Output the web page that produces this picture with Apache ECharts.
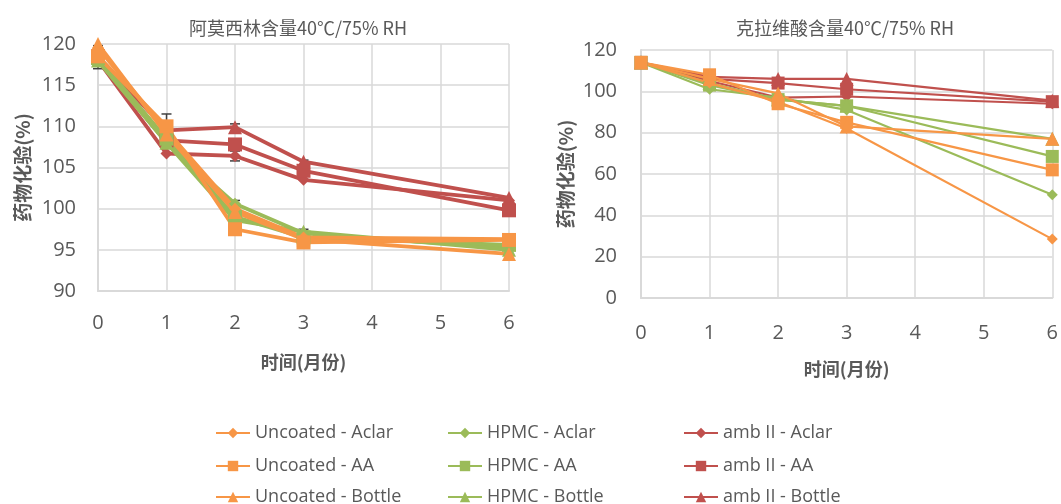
<!DOCTYPE html>
<html><head><meta charset="utf-8">
<script src="https://cdn.jsdelivr.net/npm/echarts@6/dist/echarts.min.js"></script>
<style>html,body{margin:0;padding:0;background:#fff}#c{width:1061px;height:504px}</style>
</head><body><div id="c"></div>
<script>
const months = [0, 1, 2, 3, 6];
const xTicks = [0, 1, 2, 3, 4, 5, 6];
const titleLeft = '阿莫西林含量40℃/75% RH';
const titleRight = '克拉维酸含量40℃/75% RH';
const yName = '药物化验(%)';
const xName = '时间(月份)';
const seriesNames = ['Uncoated - Aclar','Uncoated - AA','Uncoated - Bottle','HPMC - Aclar','HPMC - AA','HPMC - Bottle','amb II - Aclar','amb II - AA','amb II - Bottle'];

// Amoxicillin (left)
const amoxUncoatedAclar = [119.5, 109.5, 100.0, 96.5, 96.3];
const amoxUncoatedAA    = [118.5, 110.0, 97.5, 95.9, 96.2];
const amoxUncoatedBottle= [120.0, 109.0, 99.6, 96.3, 94.5];
const amoxHpmcAclar     = [118.0, 108.0, 100.6, 97.0, 95.2];
const amoxHpmcAA        = [118.3, 108.5, 99.0, 96.5, 95.6];
const amoxHpmcBottle    = [118.0, 108.0, 98.6, 97.2, 95.0];
const amoxAmbAclar      = [118.0, 106.7, 106.4, 103.5, 101.0];
const amoxAmbAA         = [118.5, 108.3, 107.8, 104.6, 99.8];
const amoxAmbBottle     = [118.5, 109.5, 109.9, 105.7, 101.3];
// error bars (left): [month, low, high]
const amoxErrors = [[0, 117.0, 119.8], [1, 107.5, 111.5], [2, 109.4, 110.3], [2, 105.8, 107.0], [2, 99.5, 101.0], [3, 105.1, 105.9], [3, 96.5, 97.5]];

// Clavulanic acid (right)
const clavUncoatedAclar = [114, 104, 95, 82, 28.5];
const clavUncoatedAA    = [114, 108, 94, 85, 62];
const clavUncoatedBottle= [114, 106, 99, 83, 77];
const clavHpmcAclar     = [114, 101, 97, 91, 50];
const clavHpmcAA        = [114, 103, 96, 93, 68.5];
const clavHpmcBottle    = [114, 104, 96, 93, 77];
const clavAmbAclar      = [114, 105, 97, 97.5, 94];
const clavAmbAA         = [114, 106, 104, 101, 95];
const clavAmbBottle     = [114, 107, 106, 106, 95.5];

const ORANGE = '#F79646', GREEN = '#9BBB59', RED = '#C0504D';
const TXT = '#595959', GRID = '#D9D9D9';
const cjk = '"Noto Sans CJK SC", sans-serif';
const latin = '"Open Sans", sans-serif';

const leftData = [amoxUncoatedAclar, amoxUncoatedAA, amoxUncoatedBottle, amoxHpmcAclar, amoxHpmcAA, amoxHpmcBottle, amoxAmbAclar, amoxAmbAA, amoxAmbBottle];
const rightData = [clavUncoatedAclar, clavUncoatedAA, clavUncoatedBottle, clavHpmcAclar, clavHpmcAA, clavHpmcBottle, clavAmbAclar, clavAmbAA, clavAmbBottle];
const colors = [ORANGE, ORANGE, ORANGE, GREEN, GREEN, GREEN, RED, RED, RED];
const symbols = ['diamond', 'rect', 'triangle', 'diamond', 'rect', 'triangle', 'diamond', 'rect', 'triangle'];
const drawOrder = [6, 7, 8, 3, 4, 5, 0, 1, 2];

function pairs(vals) { return vals.map((v, i) => [months[i], v]); }
function symSize(s, g) {
  if (s === 'rect') return g === 0 ? 14 : 13;
  if (s === 'diamond') return g === 0 ? 12 : 11;
  return 14;
}

const series = [];
[0, 1].forEach(g => {
  drawOrder.forEach(i => {
    series.push({
      name: seriesNames[i], type: 'line', xAxisIndex: g, yAxisIndex: g,
      data: pairs(g === 0 ? leftData[i] : rightData[i]),
      symbol: symbols[i],
      symbolSize: symSize(symbols[i], g),
      lineStyle: { color: colors[i], width: g === 0 ? 3.8 : 2.2 },
      itemStyle: { color: colors[i] },
      animation: false, z: 3
    });
  });
});
series.push({
  type: 'custom', xAxisIndex: 0, yAxisIndex: 0, z: 2, animation: false,
  data: amoxErrors,
  renderItem: function (params, api) {
    const x = api.value(0);
    const lo = api.coord([x, api.value(1)]);
    const hi = api.coord([x, api.value(2)]);
    const w = 5;
    const st = { stroke: '#404040', lineWidth: 1.5 };
    return { type: 'group', children: [
      { type: 'line', shape: { x1: lo[0], y1: lo[1], x2: hi[0], y2: hi[1] }, style: st },
      { type: 'line', shape: { x1: lo[0] - w, y1: lo[1], x2: lo[0] + w, y2: lo[1] }, style: st },
      { type: 'line', shape: { x1: hi[0] - w, y1: hi[1], x2: hi[0] + w, y2: hi[1] }, style: st }
    ]};
  }
});

function xAxis(gi, margin) {
  return {
    type: 'value', gridIndex: gi, min: 0, max: 6, interval: 1,
    name: xName, nameLocation: 'middle', nameGap: 62,
    nameTextStyle: { color: TXT, fontFamily: cjk, fontSize: 18, fontWeight: 'bold' },
    axisLine: { show: true, lineStyle: { color: GRID, width: 2 } },
    axisTick: { show: false },
    axisLabel: { color: TXT, fontSize: 20, fontFamily: latin, margin: margin,
      formatter: v => xTicks.includes(v) ? String(v) : '' },
    splitLine: { show: true, lineStyle: { color: GRID, width: 1.5 } }
  };
}
function yAxis(gi, min, max, interval, gap, margin) {
  return {
    type: 'value', gridIndex: gi, min: min, max: max, interval: interval,
    name: yName, nameLocation: 'middle', nameGap: gap, nameRotate: 90,
    nameTextStyle: { color: TXT, fontFamily: cjk, fontSize: 19, fontWeight: 'bold' },
    axisLine: { show: true, lineStyle: { color: GRID, width: 2 } },
    axisTick: { show: false },
    axisLabel: { color: TXT, fontSize: 20, fontFamily: latin, margin: margin },
    splitLine: { show: true, lineStyle: { color: GRID, width: 1.5 } }
  };
}

// one legend per item, placed in a 3 x 3 layout
const legendCols = [210, 442, 678];
const legendRows = [419, 452, 483];
const legends = seriesNames.map((n, i) => ({
  orient: 'horizontal', left: legendCols[Math.floor(i / 3)], top: legendRows[i % 3],
  itemWidth: 34, itemHeight: 13, itemGap: 0,
  data: [n],
  textStyle: { color: TXT, fontSize: 18, fontFamily: latin }
}));

const chart = echarts.init(document.getElementById('c'), null, { renderer: 'canvas' });
chart.setOption({
  backgroundColor: '#fff',
  animation: false,
  title: [
    { text: titleLeft, left: 293, top: 14, textAlign: 'center',
      textStyle: { color: TXT, fontSize: 18, fontWeight: 'normal', fontFamily: cjk } },
    { text: titleRight, left: 840, top: 14, textAlign: 'center',
      textStyle: { color: TXT, fontSize: 18, fontWeight: 'normal', fontFamily: cjk } }
  ],
  legend: legends,
  grid: [
    { left: 98, top: 44, width: 411, height: 247 },
    { left: 641, top: 50, width: 416, height: 248 }
  ],
  xAxis: [xAxis(0, 22), xAxis(1, 25)],
  yAxis: [yAxis(0, 90, 120, 5, 66, 22), yAxis(1, 0, 120, 20, 66, 24)],
  series: series
});
</script></body></html>
